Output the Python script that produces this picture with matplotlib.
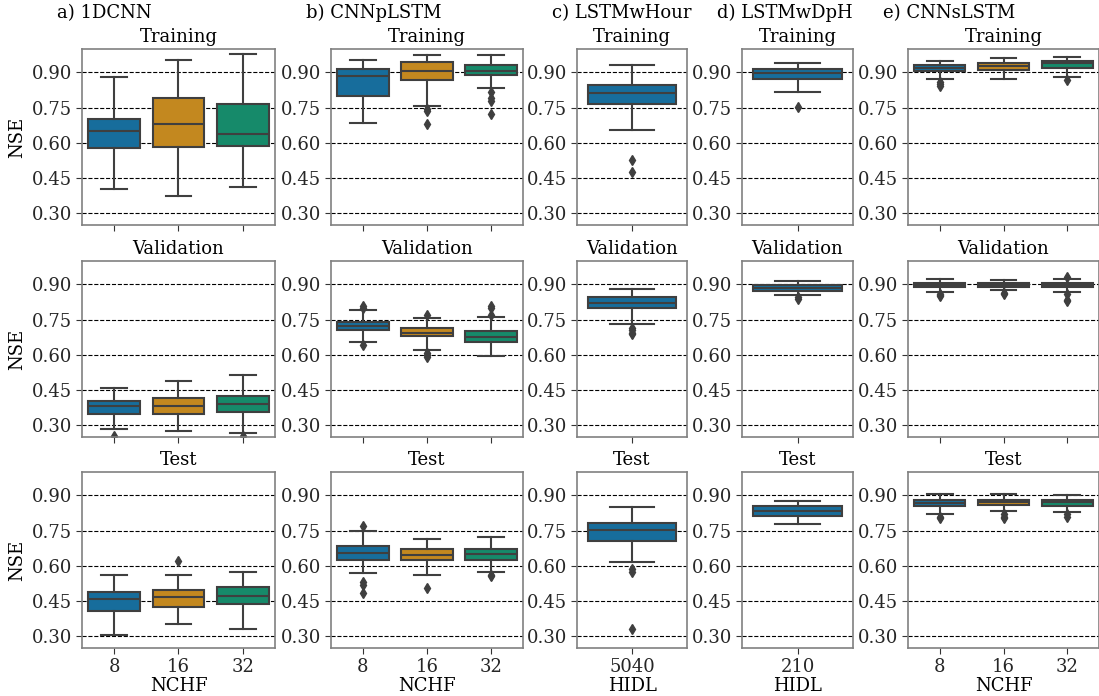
import matplotlib
matplotlib.use('Agg')
import matplotlib.pyplot as plt
from matplotlib.ticker import FormatStrFormatter

plt.rcParams['font.family'] = 'DejaVu Serif'
plt.rcParams['font.size'] = 13

models = ['a) 1DCNN', 'b) CNNpLSTM', 'c) LSTMwHour', 'd) LSTMwDpH', 'e) CNNsLSTM']
splits = ['Training', 'Validation', 'Test']
nchf_cats = ['8', '16', '32']
hour_cats = ['5040']
dph_cats = ['210']

# box stats per category: (low whisker, q1, median, q3, high whisker)
cnn1d_train = [(0.402, 0.577, 0.650, 0.701, 0.882),
               (0.375, 0.584, 0.679, 0.792, 0.952),
               (0.412, 0.587, 0.639, 0.767, 0.979)]
cnn1d_train_out = [[], [], []]
cnn1d_val = [(0.283, 0.350, 0.383, 0.405, 0.457),
             (0.275, 0.348, 0.383, 0.415, 0.490),
             (0.265, 0.357, 0.390, 0.425, 0.515)]
cnn1d_val_out = [[0.256], [], [0.255]]
cnn1d_test = [(0.306, 0.409, 0.459, 0.487, 0.561),
              (0.351, 0.426, 0.469, 0.497, 0.563),
              (0.331, 0.436, 0.473, 0.511, 0.572)]
cnn1d_test_out = [[], [0.622], []]

cnnp_train = [(0.683, 0.801, 0.883, 0.916, 0.955),
              (0.757, 0.867, 0.906, 0.943, 0.974),
              (0.832, 0.889, 0.906, 0.930, 0.974)]
cnnp_train_out = [[], [0.745, 0.735, 0.680], [0.815, 0.790, 0.780, 0.725]]
cnnp_val = [(0.655, 0.705, 0.723, 0.740, 0.790),
            (0.622, 0.680, 0.695, 0.715, 0.755),
            (0.595, 0.655, 0.675, 0.700, 0.762)]
cnnp_val_out = [[0.800, 0.810, 0.640], [0.770, 0.610, 0.600, 0.590], [0.770, 0.800, 0.810]]
cnnp_test = [(0.568, 0.624, 0.655, 0.684, 0.748),
             (0.561, 0.624, 0.645, 0.670, 0.713),
             (0.572, 0.627, 0.650, 0.670, 0.724)]
cnnp_test_out = [[0.770, 0.530, 0.520, 0.485], [0.505], [0.560, 0.555]]

hour_train = [(0.655, 0.764, 0.813, 0.845, 0.931)]
hour_train_out = [[0.526, 0.477]]
hour_val = [(0.730, 0.800, 0.820, 0.845, 0.880)]
hour_val_out = [[0.715, 0.705, 0.695, 0.690]]
hour_test = [(0.616, 0.705, 0.752, 0.784, 0.850)]
hour_test_out = [[0.585, 0.575, 0.330]]

dph_train = [(0.818, 0.872, 0.896, 0.913, 0.941)]
dph_train_out = [[0.754]]
dph_val = [(0.855, 0.872, 0.885, 0.897, 0.915)]
dph_val_out = [[0.845, 0.840]]
dph_test = [(0.779, 0.814, 0.834, 0.854, 0.878)]
dph_test_out = [[]]

cnns_train = [(0.874, 0.907, 0.920, 0.931, 0.948),
              (0.872, 0.910, 0.927, 0.941, 0.960),
              (0.879, 0.918, 0.941, 0.950, 0.964)]
cnns_train_out = [[0.860, 0.850, 0.842], [], [0.870]]
cnns_val = [(0.870, 0.890, 0.897, 0.905, 0.925),
            (0.875, 0.890, 0.898, 0.905, 0.918),
            (0.870, 0.888, 0.896, 0.905, 0.922)]
cnns_val_out = [[0.860, 0.855, 0.850], [0.865, 0.860], [0.930, 0.860, 0.835, 0.830]]
cnns_test = [(0.820, 0.855, 0.870, 0.880, 0.908),
             (0.832, 0.858, 0.872, 0.882, 0.905),
             (0.828, 0.857, 0.871, 0.882, 0.902)]
cnns_test_out = [[0.810, 0.805], [0.820, 0.810, 0.805], [0.820, 0.810]]

panels = [
    (nchf_cats, 'NCHF', [(cnn1d_train, cnn1d_train_out), (cnn1d_val, cnn1d_val_out), (cnn1d_test, cnn1d_test_out)]),
    (nchf_cats, 'NCHF', [(cnnp_train, cnnp_train_out), (cnnp_val, cnnp_val_out), (cnnp_test, cnnp_test_out)]),
    (hour_cats, 'HIDL', [(hour_train, hour_train_out), (hour_val, hour_val_out), (hour_test, hour_test_out)]),
    (dph_cats, 'HIDL', [(dph_train, dph_train_out), (dph_val, dph_val_out), (dph_test, dph_test_out)]),
    (nchf_cats, 'NCHF', [(cnns_train, cnns_train_out), (cnns_val, cnns_val_out), (cnns_test, cnns_test_out)]),
]

colors = ['#176d9c', '#c3881f', '#168a6a']
line = '#3f3f3f'

W, H = 1099, 696
fig = plt.figure(figsize=(W / 100, H / 100), dpi=100)

col_left = [82, 331, 577, 742, 908]
col_width = [193, 192, 110, 111, 191]
row_top = [49, 261, 472]
row_h = 176

for j, (cats, xlab, rows) in enumerate(panels):
    fig.text((col_left[j] - 25) / W, 1 - 13 / H, models[j], ha='left', va='center', fontsize=13)
    for i, (boxes, outs) in enumerate(rows):
        ax = fig.add_axes([col_left[j] / W, 1 - (row_top[i] + row_h) / H, col_width[j] / W, row_h / H])
        stats = []
        for (lo, q1, med, q3, hi), fl in zip(boxes, outs):
            stats.append(dict(whislo=lo, q1=q1, med=med, q3=q3, whishi=hi, fliers=fl))
        bp = ax.bxp(stats, positions=range(len(cats)), widths=0.8, patch_artist=True,
                    boxprops=dict(edgecolor=line, linewidth=1.5),
                    whiskerprops=dict(color=line, linewidth=1.5),
                    capprops=dict(color=line, linewidth=1.5),
                    medianprops=dict(color=line, linewidth=1.5),
                    flierprops=dict(marker='d', markerfacecolor=line, markeredgecolor=line, markersize=5))
        for patch, c in zip(bp['boxes'], colors):
            patch.set_facecolor(c)
        ax.set_xlim(-0.5, len(cats) - 0.5)
        ax.set_ylim(0.25, 1.0)
        ax.set_yticks([0.30, 0.45, 0.60, 0.75, 0.90])
        ax.yaxis.set_major_formatter(FormatStrFormatter('%.2f'))
        ax.yaxis.grid(True, linestyle='--', color='black', linewidth=0.8)
        ax.set_axisbelow(True)
        ax.set_xticks(range(len(cats)))
        if i == 2:
            ax.set_xticklabels(cats)
            ax.set_xlabel(xlab, labelpad=1)
        else:
            ax.set_xticklabels([])
        if j == 0:
            ax.set_ylabel('NSE')
        ax.set_title(splits[i], fontsize=13, pad=5)
        for s in ax.spines.values():
            s.set_color('0.5')
            s.set_linewidth(1.2)
        ax.tick_params(colors='0.2', length=4, labelcolor='0.15', pad=3)

fig.savefig('out.png', dpi=100)
